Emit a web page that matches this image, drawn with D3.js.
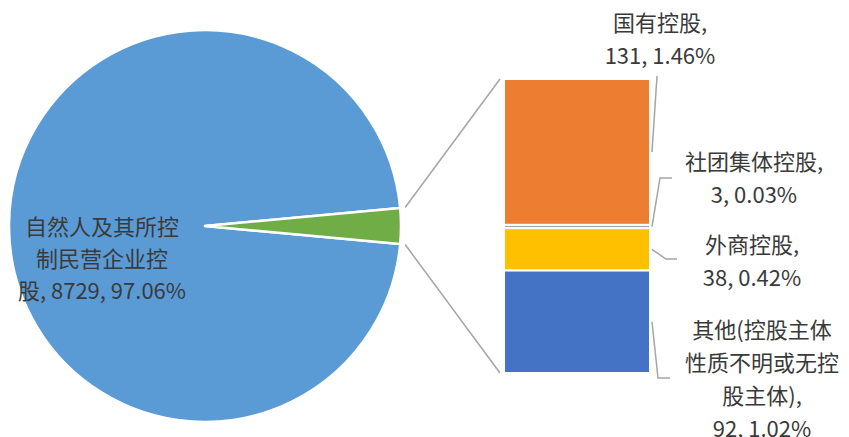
<!DOCTYPE html>
<html>
<head>
<meta charset="utf-8">
<script src="https://cdn.jsdelivr.net/npm/d3@7"></script>
<style>
  body { margin: 0; background: #fff; }
  text { font-family: "Noto Sans CJK SC", "Noto Sans", sans-serif; fill: #3a3a3a; }
</style>
</head>
<body>
<script>
// pie part: main slice + the combined "other" slice
const pieNames = ["自然人及其所控制民营企业控股", "其他合计"];
const pieValues = [8729, 264];
const pieColors = ["#5B9BD5", "#70AD47"];

// bar part (top to bottom)
const barNames = ["国有控股", "社团集体控股", "外商控股", "其他(控股主体性质不明或无控股主体)"];
const barValues = [131, 3, 38, 92];
const barPct = ["1.46%", "0.03%", "0.42%", "1.02%"];
const barColors = ["#ED7D31", "#A5A5A5", "#FFC000", "#4472C4"];

const width = 849, height = 437;
const cx = 205, cy = 226, r = 196;

const svg = d3.select("body").append("svg")
  .attr("width", width)
  .attr("height", height);

const total = d3.sum(pieValues);
const g = 2 * Math.PI * pieValues[1] / total;
const start = Math.PI / 2 + g / 2;

const pie = d3.pie().sort(null).startAngle(start).endAngle(start + 2 * Math.PI);
const arcs = pie(pieValues);
const arc = d3.arc().innerRadius(0).outerRadius(r);

svg.append("g")
  .attr("transform", `translate(${cx},${cy})`)
  .selectAll("path")
  .data(arcs)
  .join("path")
  .attr("d", arc)
  .attr("fill", (d, i) => pieColors[i])
  .attr("stroke", "#fff")
  .attr("stroke-width", 2.5)
  .attr("stroke-linejoin", "round");

// bar of pie
const barX0 = 504, barX1 = 650;
const y = d3.scaleLinear().domain([0, d3.sum(barValues)]).range([79, 373]);
const cum = d3.cumsum(barValues);
const segs = barValues.map((v, i) => ({ v: v, y0: y(cum[i] - v), y1: y(cum[i]) }));

svg.append("g")
  .selectAll("rect")
  .data(segs)
  .join("rect")
  .attr("x", barX0)
  .attr("width", barX1 - barX0)
  .attr("y", d => d.y0)
  .attr("height", d => d.y1 - d.y0)
  .attr("fill", (d, i) => barColors[i])
  .attr("stroke", "#fff")
  .attr("stroke-width", 2);

// connector lines from green slice edges to the bar
const a1 = arcs[1].startAngle, a2 = arcs[1].endAngle;
const pt = (a, rr) => [cx + rr * Math.sin(a), cy - rr * Math.cos(a)];
const conn = [[pt(a1, r + 5), [barX0 - 4, y(0)]],
              [pt(a2, r + 5), [barX0 - 4, y(d3.sum(barValues))]]];
svg.append("g")
  .selectAll("line")
  .data(conn)
  .join("line")
  .attr("x1", d => d[0][0]).attr("y1", d => d[0][1])
  .attr("x2", d => d[1][0]).attr("y2", d => d[1][1])
  .attr("stroke", "#A5A5A5")
  .attr("stroke-width", 1.5);

// data labels
const fs = 22;
const lab = [
  { x: 660, y: 31, lead: [[657, 76]] },
  { x: 754, y: 170, lead: [[660, 178], [672, 178]] },
  { x: 752, y: 253, lead: [[666, 259], [677, 259]] },
  { x: 762, y: 338, lead: [[658, 378], [670, 378]] }
];
lab[0].lines = [barNames[0] + ",", barValues[0] + ", " + barPct[0]];
lab[1].lines = [barNames[1] + ",", barValues[1] + ", " + barPct[1]];
lab[2].lines = [barNames[2] + ",", barValues[2] + ", " + barPct[2]];
lab[3].lines = ["其他(控股主体", "性质不明或无控", "股主体),", barValues[3] + ", " + barPct[3]];

const line = d3.line();
lab.forEach((d, i) => {
  const s = segs[i];
  const p0 = [barX1 + 2, (s.y0 + s.y1) / 2];
  svg.append("path")
    .attr("d", line([p0].concat(d.lead)))
    .attr("fill", "none")
    .attr("stroke", "#A5A5A5")
    .attr("stroke-width", 1.5);
  const t = svg.append("text")
    .attr("text-anchor", "middle")
    .attr("font-size", fs);
  d.lines.forEach((ln, j) => {
    t.append("tspan").attr("x", d.x).attr("y", d.y + j * 33).text(ln);
  });
});

// pie label
const pct0 = (pieValues[0] / total * 100).toFixed(2) + "%";
const pl = svg.append("text")
  .attr("text-anchor", "middle")
  .attr("font-size", fs);
["自然人及其所控", "制民营企业控", "股, " + pieValues[0] + ", " + pct0].forEach((ln, j) => {
  pl.append("tspan").attr("x", 102).attr("y", 235 + j * 32).text(ln);
});
</script>
</body>
</html>
